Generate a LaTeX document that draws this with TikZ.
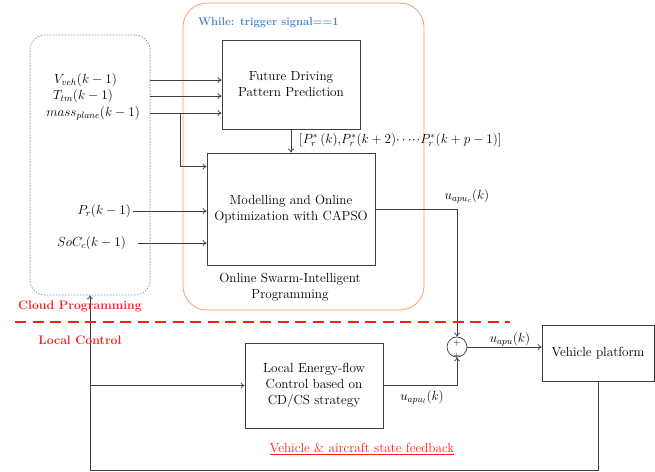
\documentclass[tikz,border=0pt]{standalone}
\usepackage{fix-cm}
\usepackage{amsmath}
\usetikzlibrary{arrows.meta}
\definecolor{cloudblue}{RGB}{110,145,200}
\definecolor{whileblue}{RGB}{70,130,200}
\definecolor{loopfrange}{RGB}{245,160,95}
\definecolor{splitred}{RGB}{255,30,30}
\tikzset{
  txt/.style={font=\fontsize{13.2}{16}\selectfont},
  blk/.style={txt, draw=black!75, line width=0.8pt, align=center, inner sep=0pt},
  sig/.style={draw=black!75, line width=0.7pt, -{To[length=4pt,width=6pt]}},
  wire/.style={draw=black!75, line width=0.7pt},
  redtxt/.style={text=splitred, font=\bfseries\fontsize{12.3}{14}\selectfont, inner sep=0pt},
}
\begin{document}
\begin{tikzpicture}[x=1pt,y=-1pt]
			%%%%% START %%%%%
			\useasboundingbox (0,0) rectangle (655,471);
			
			% frames
			\node[draw=cloudblue, line width=0.7pt, dash pattern=on 1.5pt off 1.5pt, rounded corners=15pt,
			      minimum width=120pt, minimum height=260pt, inner sep=0pt] (cloud) at (90,165) {};
			\node[draw=loopfrange, line width=0.8pt, rounded corners=24pt,
			      minimum width=241pt, minimum height=307pt, inner sep=0pt] (loop) at (303.5,156.5) {};
			\node[text=whileblue, font=\bfseries\fontsize{11.2}{13}\selectfont, anchor=west, inner sep=0pt] (while) at (198,23) {While: trigger signal==1};
			
			% blocks
			\node[blk, minimum width=138pt, minimum height=89pt] (fdp) at (291,84.5) {Future Driving\\Pattern Prediction};
			\node[blk, minimum width=168pt, minimum height=112pt] (mod) at (291,209) {Modelling and Online\\Optimization with CAPSO};
			\node[txt, align=center] (osip) at (290,287) {Online Swarm-Intelligent\\Programming};
			\node[blk, minimum width=138pt, minimum height=85pt] (loc) at (314,385.5) {Local Energy-flow\\Control based on\\CD/CS strategy};
			\node[blk, minimum width=112pt, minimum height=56pt] (veh) at (598,353) {Vehicle platform};
			\node[draw=black!75, line width=0.7pt, circle, minimum size=20pt, inner sep=0pt] (sum) at (457,347) {};
			\node[font=\fontsize{9}{9}\selectfont, inner sep=0pt] (plusa) at (457,343) {$+$};
			\node[font=\fontsize{9}{9}\selectfont, inner sep=0pt] (plusb) at (457,356) {$+$};
			
			% inputs
			\node[txt, anchor=east, inner sep=0pt] (vveh) at (117,80) {$V_{veh}(k-1)$};
			\node[txt, anchor=east, inner sep=0pt] (ttm) at (113,96) {$T_{tm}(k-1)$};
			\node[txt, anchor=east, inner sep=0pt] (mass) at (140,113) {$mass_{plane}(k-1)$};
			\node[txt, anchor=east, inner sep=0pt] (pr) at (131,211) {$P_r(k-1)$};
			\node[txt, anchor=east, inner sep=0pt] (soc) at (126,243) {$SoC_c(k-1)$};
			\coordinate (brch) at (180,113);
			
			\draw[sig] (vveh -| cloud.east) -- (vveh -| fdp.west);
			\draw[sig] (ttm -| cloud.east) -- (ttm -| fdp.west);
			\draw[sig] (mass -| cloud.east) -- (mass -| fdp.west);
			\draw[sig] (brch) |- ([yshift=-14pt]mod.north west);
			\draw[sig] ([xshift=2pt]pr.east) -- (pr -| mod.west);
			\draw[sig] ([xshift=12pt]soc.east) -- (soc -| mod.west);
			\draw[sig] (fdp.south) -- (fdp.south |- mod.north);
			\node[txt, anchor=west, inner sep=0pt] (prseq) at (299,140) {$[P_r^*\,(k),\!P_r^*(k+2)\!\cdots\!\cdot\!\cdot P_r^*(k+p-1)]$};
			
			% outputs
			\draw[sig] (mod.east) -| (sum.north);
			\node[txt, inner sep=0pt] (uc) at (467,196) {$u_{apu_c}(k)$};
			\draw[sig] (loc.east) -| (sum.south);
			\node[txt, inner sep=0pt] (ul) at (422,397) {$u_{apu_l}(k)$};
			\draw[sig] (sum.east) -- (sum -| veh.west);
			\node[txt, inner sep=0pt] (uapu) at (510,339) {$u_{apu}(k)$};
			
			% feedback
			\coordinate (fbk) at (90,470);
			\draw[wire] (veh.south) |- (fbk);
			\draw[sig] (fbk) -- (cloud.south);
			\draw[sig] (fbk |- loc) -- (loc.west);
			\node[txt, text=splitred, inner sep=0pt] (fbtxt) at (362,449) {\underline{Vehicle \& aircraft state feedback}};
			
			% cloud / local split
			\draw[splitred, line width=2.2pt, dash pattern=on 11pt off 6.5pt] (15,322) -- (510,322);
			\node[redtxt] (cloudtxt) at (80,306) {Cloud Programming};
			\node[redtxt] (localtxt) at (80,340) {Local Control};
			
			%%%%% END %%%%%
\end{tikzpicture}
\end{document}
